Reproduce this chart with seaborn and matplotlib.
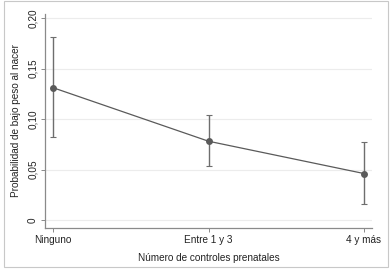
import numpy as np
import pandas as pd
import matplotlib
matplotlib.use('Agg')
import matplotlib.pyplot as plt
import matplotlib.ticker as mticker
from matplotlib.patches import Rectangle
import seaborn as sns

# datos
categorias = ['Ninguno', 'Entre 1 y 3', '4 y más']
probabilidad = [0.131, 0.078, 0.046]
ic_inferior = [0.082, 0.053, 0.016]
ic_superior = [0.181, 0.104, 0.077]
yticks = [0, 0.05, 0.10, 0.15, 0.20]

sns.set_style('white')
plt.rcParams['font.family'] = ['Liberation Sans', 'DejaVu Sans']

df = pd.DataFrame({'x': np.arange(len(categorias)), 'prob': probabilidad})

fig = plt.figure(figsize=(3.92, 2.72), dpi=100)
ax = fig.add_axes([45 / 392, 44 / 272, 327 / 392, 214 / 272])

for y in yticks:
    ax.axhline(y, color='#ececec', lw=0.8, zorder=0)

err = [np.array(probabilidad) - np.array(ic_inferior),
       np.array(ic_superior) - np.array(probabilidad)]
ax.errorbar(df['x'], df['prob'], yerr=err, fmt='none', ecolor='#6e6e6e',
            elinewidth=1.0, capsize=2.5, capthick=0.8, zorder=2)
sns.lineplot(data=df, x='x', y='prob', ax=ax, color='#5a5a5a', lw=0.9,
             marker='o', markersize=5, markeredgewidth=0, zorder=3)

ax.set_xlim(-8 / 155.5, 2 + 8 / 155.5)
ax.set_ylim(-8 / 1010, 0.2 + 4 / 1010)
ax.set_xticks(df['x'])
ax.set_xticklabels(categorias)
ax.set_yticks(yticks)
ax.yaxis.set_major_formatter(mticker.FuncFormatter(
    lambda v, p: '0' if v == 0 else f'{v:.2f}'.replace('.', ',')))
for lab in ax.get_yticklabels():
    lab.set_rotation(90)
    lab.set_va('center')

for s in ['top', 'right']:
    ax.spines[s].set_visible(False)
for s in ['left', 'bottom']:
    ax.spines[s].set_color('#8a8a8a')
    ax.spines[s].set_linewidth(0.9)
ax.tick_params(axis='both', which='both', direction='out', length=3, width=0.7,
               color='#8a8a8a', labelsize=7.2, labelcolor='#222222', pad=2,
               left=True, bottom=True)

ax.set_xlabel('Número de controles prenatales', fontsize=7.2, color='#222222', labelpad=6)
ax.set_ylabel('Probabilidad de bajo peso al nacer', fontsize=7.2, color='#222222', labelpad=5)

fig.patches.append(Rectangle((4 / 392, 5 / 272), 384 / 392, 266 / 272,
                             transform=fig.transFigure, fill=False,
                             edgecolor='#c8c8c8', lw=0.8))

plt.savefig('out.png', dpi=100)
